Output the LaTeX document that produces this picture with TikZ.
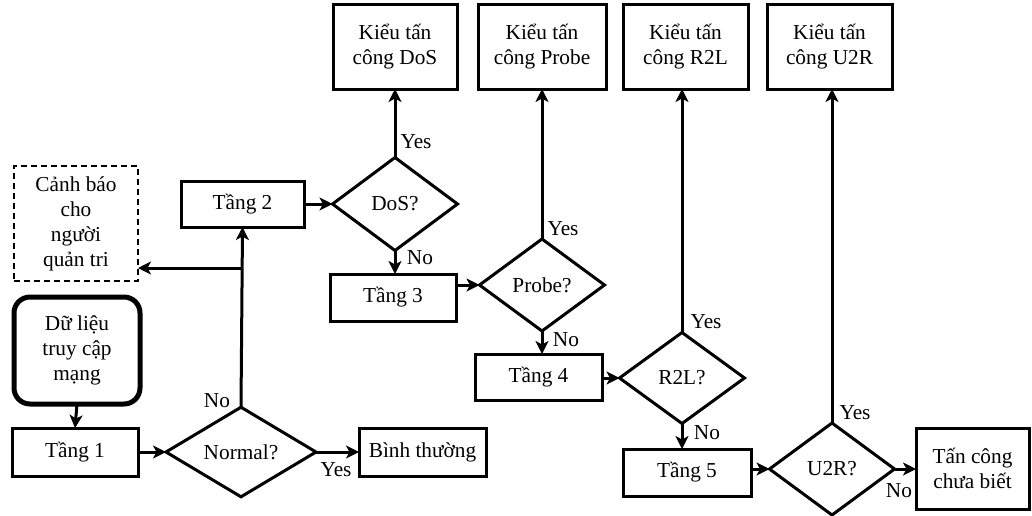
\documentclass[tikz,border=0pt]{standalone}
\usepackage{fontspec}
\setmainfont{LiberationSerif-Regular.ttf}[BoldFont=LiberationSerif-Bold.ttf,ItalicFont=LiberationSerif-Italic.ttf]
\usetikzlibrary{shapes.geometric,arrows.meta}
\begin{document}
\begin{tikzpicture}[x=1pt,y=-1pt,
  every node/.style={font=\fontsize{21.3}{25}\selectfont},
  box/.style={draw,line width=3pt,inner sep=0pt,outer sep=0pt,align=center},
  dec/.style={draw,diamond,line width=3pt,inner sep=0pt,outer sep=0pt,align=center},
  lbl/.style={inner sep=0pt},
  arr/.style={line width=3pt,-{Stealth[length=13pt,width=13pt,inset=3.5pt]}}]
\useasboundingbox (0,0) rectangle (1032,515);
% boxes
\node[box,dash pattern=on 6pt off 4pt,line width=2.4pt,minimum width=124pt,minimum height=115pt] (warn) at (76,223.5) {Cảnh báo\\cho\\người\\quản tri};
\node[box,line width=5pt,rounded corners=16pt,minimum width=126pt,minimum height=107pt] (data) at (77,350.5) {Dữ liệu\\truy cập\\mạng};
\node[box,minimum width=126pt,minimum height=48pt] (t1) at (75,452) {Tầng 1};
\node[dec,minimum width=150pt,minimum height=86pt] (normal) at (241,452) {Normal?};
\node[box,minimum width=127pt,minimum height=48pt] (nb) at (422.5,452) {Bình thường};
\node[box,minimum width=123pt,minimum height=46pt] (t2) at (242.5,204) {Tầng 2};
\node[dec,minimum width=125pt,minimum height=93pt] (dos) at (395,204) {DoS?};
\node[box,minimum width=124pt,minimum height=85pt] (kdos) at (395,46.5) {Kiểu tấn\\công DoS};
\node[box,minimum width=126pt,minimum height=47pt] (t3) at (393,297.5) {Tầng 3};
\node[dec,minimum width=125pt,minimum height=92pt] (probe) at (542,285) {Probe?};
\node[box,minimum width=128pt,minimum height=85pt] (kprobe) at (542,46.5) {Kiểu tấn\\công Probe};
\node[box,minimum width=127pt,minimum height=46pt] (t4) at (538.5,377) {Tầng 4};
\node[dec,minimum width=125pt,minimum height=91pt] (r2l) at (682,378) {R2L?};
\node[box,minimum width=125pt,minimum height=85pt] (kr2l) at (685.5,46.5) {Kiểu tấn\\công R2L};
\node[box,minimum width=128pt,minimum height=47pt] (t5) at (687,472.5) {Tầng 5};
\node[dec,minimum width=125pt,minimum height=92pt] (u2r) at (832,469) {U2R?};
\node[box,minimum width=125pt,minimum height=85pt] (ku2r) at (829.5,46.5) {Kiểu tấn\\công U2R};
\node[box,minimum width=113pt,minimum height=81pt] (unk) at (972.5,468.5) {Tấn công\\chưa biết};
% connectors
\draw[arr] (data.south) -- (t1.north);
\draw[arr] (t1.east) -- (normal.west);
\draw[arr] (normal.east) -- (nb.west);
\draw[arr] (normal.north) -- (t2.south);
\coordinate (br) at (241,268);
\draw[arr] (br) -- (br -| warn.east);
\draw[arr] (t2.east) -- (dos.west);
\draw[arr] (dos.north) -- (kdos.south);
\draw[arr] (dos.south) -- (dos.south |- t3.north);
\draw[arr] (t3.east |- probe.west) -- (probe.west);
\draw[arr] (probe.north) -- (kprobe.south);
\draw[arr] (probe.south) -- (probe.south |- t4.north);
\draw[arr] (t4.east |- r2l.west) -- (r2l.west);
\draw[arr] (r2l.north) -- (r2l.north |- kr2l.south);
\draw[arr] (r2l.south) -- (r2l.south |- t5.north);
\draw[arr] (t5.east |- u2r.west) -- (u2r.west);
\draw[arr] (u2r.north) -- (u2r.north |- ku2r.south);
\draw[arr] (u2r.east) -- (u2r.east -| unk.west);
% labels
\node[lbl] (ly1) at (336,470) {Yes};
\node[lbl] (ln1) at (217,401) {No};
\node[lbl] (ly2) at (416,142) {Yes};
\node[lbl] (ln2) at (420,258) {No};
\node[lbl] (ly3) at (563,229) {Yes};
\node[lbl] (ln3) at (566,340) {No};
\node[lbl] (ly4) at (706,322) {Yes};
\node[lbl] (ln4) at (707,433) {No};
\node[lbl] (ly5) at (855,413) {Yes};
\node[lbl] (ln5) at (899,491) {No};
\end{tikzpicture}
\end{document}
